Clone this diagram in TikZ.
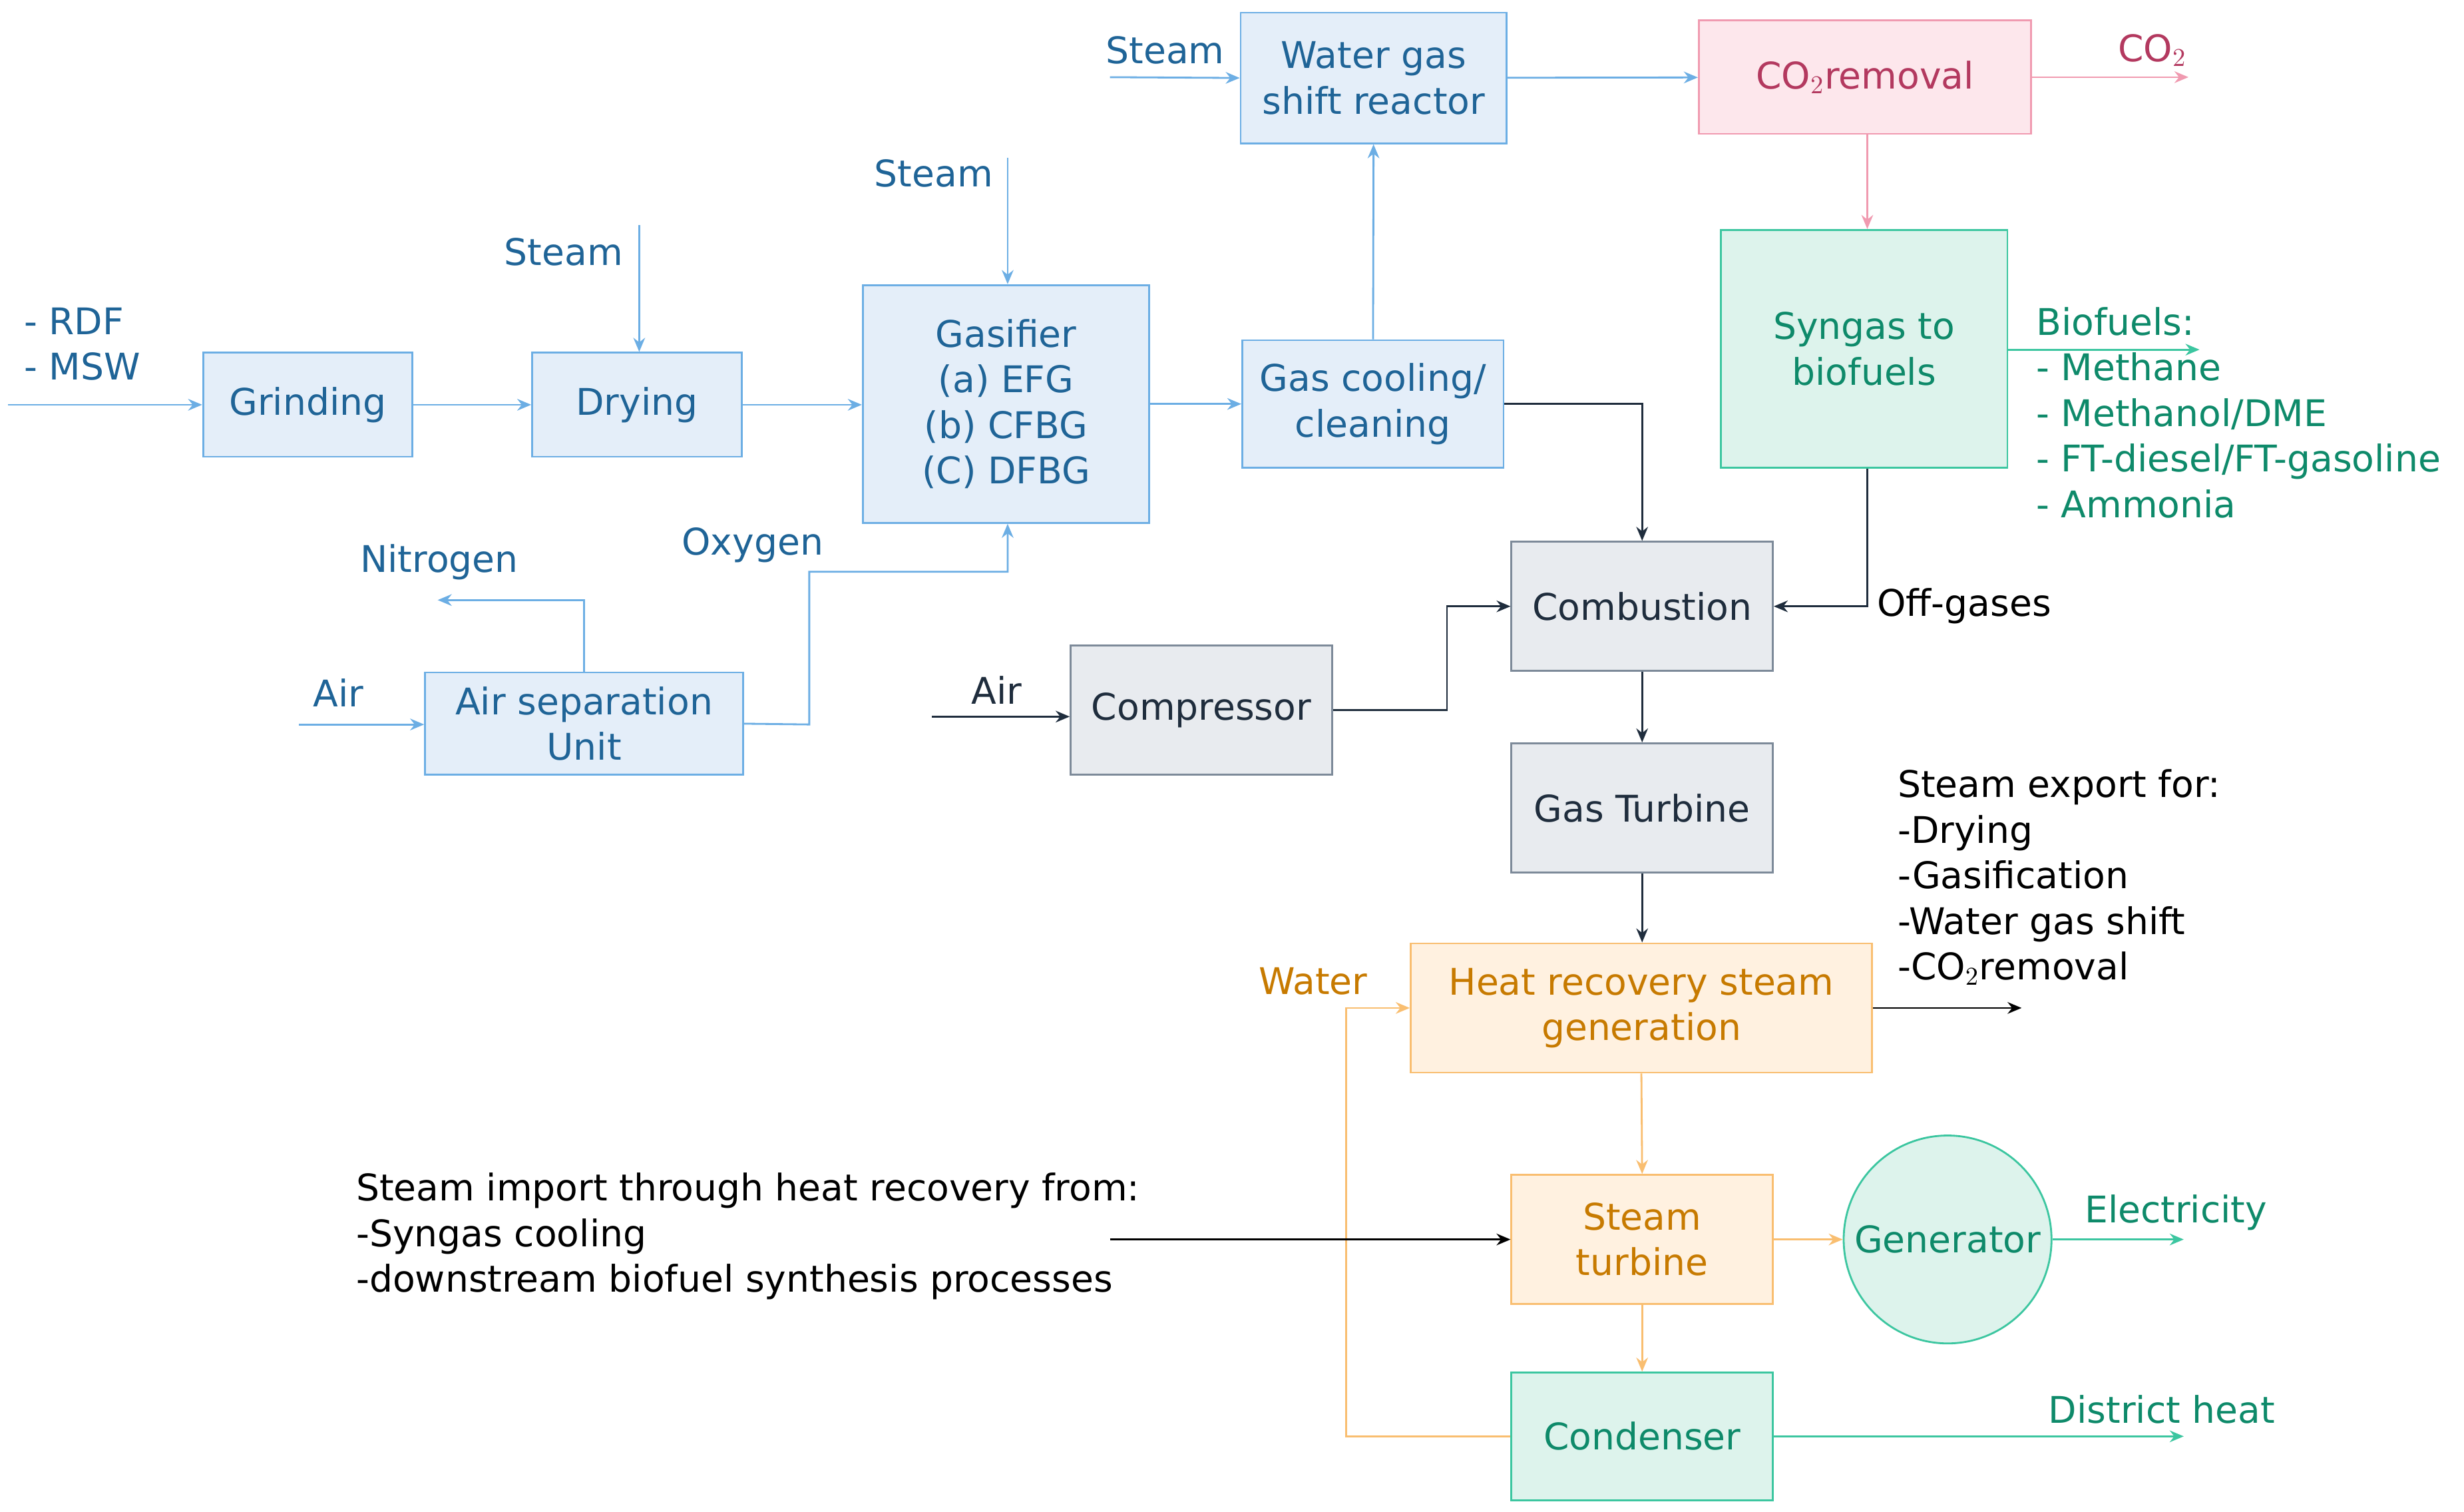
\documentclass[tikz,border=0pt]{standalone}
\usepackage{fontspec}
\setmainfont{DejaVu Sans}
\usetikzlibrary{arrows.meta}
\definecolor{bfill}{HTML}{E4EEF9}\definecolor{bdraw}{HTML}{6CAEE4}\definecolor{btext}{HTML}{1F6497}
\definecolor{gfill}{HTML}{E8EBEF}\definecolor{gdraw}{HTML}{7D8A99}\definecolor{gtext}{HTML}{1F2D3D}
\definecolor{pfill}{HTML}{FDE7EC}\definecolor{pdraw}{HTML}{F09AB0}\definecolor{ptext}{HTML}{B3395F}
\definecolor{tfill}{HTML}{DDF3EC}\definecolor{tdraw}{HTML}{3CC6A0}\definecolor{ttext}{HTML}{0E8A6A}
\definecolor{ofill}{HTML}{FFF1E0}\definecolor{odraw}{HTML}{F9BE70}\definecolor{otext}{HTML}{C77A00}
\newcommand\pxu{0.02366cm}
\begin{document}
\begin{tikzpicture}[x=0.02366cm,y=-0.02366cm,
  every node/.style={font=\fontsize{15.7}{19.5}\selectfont, inner sep=0pt},
  sz/.style 2 args={minimum width=#1*\pxu, minimum height=#2*\pxu},
  bbox/.style={draw=bdraw, fill=bfill, text=btext, align=center, line width=0.8pt},
  gbox/.style={draw=gdraw, fill=gfill, text=gtext, align=center, line width=0.8pt},
  pbox/.style={draw=pdraw, fill=pfill, text=ptext, align=center, line width=0.8pt},
  tbox/.style={draw=tdraw, fill=tfill, text=ttext, align=center, line width=0.8pt},
  obox/.style={draw=odraw, fill=ofill, text=otext, align=center, line width=0.8pt},
  arr/.style={-{Stealth[length=6pt,width=5pt]}, line width=0.8pt},
  ba/.style={arr, draw=bdraw}, da/.style={arr, draw=gtext}, pa/.style={arr, draw=pdraw},
  ta/.style={arr, draw=tdraw}, oa/.style={arr, draw=odraw}, ka/.style={arr, draw=black},
  lbl/.style={anchor=west, align=left}]
\useasboundingbox (0,0) rectangle (1565,960);
% nodes
\node[bbox, sz={133}{66}] (grind) at (195.5,257) {Grinding};
\node[bbox, sz={133}{66}] (dry) at (404.5,257) {Drying};
\node[bbox, sz={182}{151}] (gas) at (639,256.5) {Gasifier\\(a) EFG\\(b) CFBG\\(C) DFBG};
\node[bbox, sz={166}{81}] (cool) at (872,256.5) {Gas cooling/\\cleaning};
\node[bbox, sz={169}{83}] (wgs) at (872.5,49.5) {Water gas\\shift reactor};
\node[pbox, sz={211}{72}] (co2) at (1184.5,49) {CO$_2$removal};
\node[tbox, sz={182}{151}] (syn) at (1184,221.5) {Syngas to\\biofuels};
\node[gbox, sz={166}{82}] (comb) at (1043,385) {Combustion};
\node[gbox, sz={166}{82}] (comp) at (763,451) {Compressor};
\node[bbox, sz={202}{65}] (asu) at (371,459.5) {Air separation\\Unit};
\node[gbox, sz={166}{82}] (gt) at (1043,513) {Gas Turbine};
\node[obox, sz={293}{82}] (hrsg) at (1042.5,640) {Heat recovery steam\\generation};
\node[obox, sz={166}{82}] (st) at (1043,787) {Steam\\turbine};
\node[tbox, circle, minimum size=132*\pxu] (gen) at (1237,787) {Generator};
\node[tbox, sz={166}{81}] (cond) at (1043,912) {Condenser};
% labels
\node[lbl, text=btext] (rdf) at (15,218.5) {- RDF\\- MSW};
\node[text=btext] (s1) at (358,160) {Steam};
\node[text=btext] (s2) at (593,110) {Steam};
\node[text=btext] (s3) at (740,32) {Steam};
\node[text=ptext] (co2t) at (1367,32) {CO$_2$};
\node[lbl, text=ttext] (bio) at (1293,262) {Biofuels:\\- Methane\\- Methanol/DME\\- FT-diesel/FT-gasoline\\- Ammonia};
\node[lbl] (off) at (1192,385) {Off-gases};
\node[text=gtext] (air2) at (633,438) {Air};
\node[text=btext] (air1) at (215,440) {Air};
\node[text=btext] (nit) at (279,357) {Nitrogen};
\node[text=btext] (oxy) at (478,346) {Oxygen};
\node[lbl] (exp) at (1205,557) {Steam export for:\\-Drying\\-Gasification\\-Water gas shift\\-CO$_2$removal};
\node[text=otext] (water) at (834,623) {Water};
\node[text=ttext] (elec) at (1382,770) {Electricity};
\node[text=ttext] (dh) at (1373,895) {District heat};
\node[lbl] (imp) at (226,785) {Steam import through heat recovery from:\\-Syngas cooling\\-downstream biofuel synthesis processes};
% coordinates
\coordinate (in) at (5,257);
\coordinate (s1a) at (406,143);
\coordinate (s2a) at (640,100);
\coordinate (s3a) at (705,49);
\coordinate (co2o) at (1390,49);
\coordinate (bioo) at (1397,222);
\coordinate (aira) at (592,455);
\coordinate (air1a) at (190,460);
\coordinate (nito) at (278,381);
\coordinate (expo) at (1284,640);
\coordinate (eleco) at (1387,787);
\coordinate (dho) at (1387,912);
\coordinate (impa) at (705,787);
% connectors
\draw[ba] (in) -- (grind);
\draw[ba] (grind) -- (dry);
\draw[ba] (dry) -- (gas.west |- dry);
\draw[ba] (gas.east |- cool) -- (cool);
\draw[ba] (s1a) -- (dry.north -| s1a);
\draw[ba] (s2a) -- (gas.north -| s2a);
\draw[ba] (cool) -- (wgs);
\draw[ba] (s3a) -- (wgs.west);
\draw[ba] (wgs) -- (co2);
\draw[pa] (co2) -- (co2o);
\draw[pa] (co2.south -| 1186,0) -- (syn.north -| 1186,0);
\draw[ta] (syn.east |- bioo) -- (bioo);
\draw[da] (syn.south -| 1186,0) |- (comb.east);
\draw[da] (cool.east) -| (comb.north);
\draw[da] (comp.east) -- (919,451) |- (comb.west);
\draw[da] (aira) -- (comp.west |- aira);
\draw[ba] (air1a) -- (asu.west |- air1a);
\draw[ba] (asu.north) |- (nito);
\draw[ba] (asu.east) -- (514,460) -- (514,363) -| (gas.south -| 640,0);
\draw[da] (comb) -- (gt);
\draw[da] (gt.south) -- (hrsg.north -| gt.south);
\draw[ka] (hrsg.east) -- (expo);
\draw[oa] (hrsg.south) -- (st.north);
\draw[oa] (st) -- (gen);
\draw[ta] (gen) -- (eleco);
\draw[oa] (st) -- (cond);
\draw[oa] (cond.west) -- (855,912) |- (hrsg.west);
\draw[ta] (cond) -- (dho);
\draw[ka] (impa) -- (st.west);
\end{tikzpicture}
\end{document}
